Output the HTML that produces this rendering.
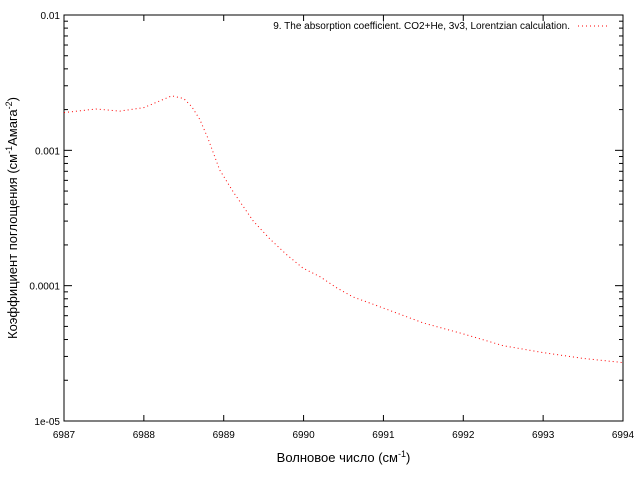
<!DOCTYPE html>
<html><head><meta charset="utf-8"><style>
body{margin:0;background:#fff;}
svg{display:block;font-family:"Liberation Sans","DejaVu Sans",sans-serif;}
</style></head><body>
<svg id="chart" width="640" height="480" viewBox="0 0 640 480"></svg>
<script>
const xs = [6987,6987.4,6987.7,6988,6988.2,6988.35,6988.5,6988.6,6988.7,6988.8,6988.95,6989.12,6989.37,6989.58,6989.79,6989.99,6990.21,6990.42,6990.62,6990.87,6991.5,6992,6992.5,6993,6993.5,6994];
const ys = [0.0019,0.00202,0.00195,0.00207,0.00232,0.00253,0.00241,0.0021,0.00169,0.00124,0.000716,0.000492,0.0003,0.000221,0.000169,0.000135,0.000116,9.6e-5,8.25e-5,7.3e-5,5.3e-5,4.4e-5,3.6e-5,3.2e-5,2.9e-5,2.7e-5];
const xTicks = [6987,6988,6989,6990,6991,6992,6993,6994];
const yTicks = [1e-5,1e-4,1e-3,1e-2];
const yTickLabels = ["1e-05","0.0001","0.001","0.01"];
const L=64,R=623,T=15,B=421;
const NS="http://www.w3.org/2000/svg";
const svg=document.getElementById('chart');
function X(v){return L+(v-6987)/(6994-6987)*(R-L);}
function Y(v){return B-(Math.log10(v)+5)/3*(B-T);}
function mk(tag,attrs,parent){const e=document.createElementNS(NS,tag);for(const k in attrs)e.setAttribute(k,attrs[k]);(parent||svg).appendChild(e);return e;}
const frame=mk('rect',{x:L,y:T,width:R-L,height:B-T,fill:'none',stroke:'#000','stroke-width':1});


xTicks.forEach(t=>{
  const x=X(t);
  const a=mk('line',{x1:x,x2:x,y1:B,y2:B-6,stroke:'#000'});
  
  
  mk('line',{x1:x,x2:x,y1:T,y2:T+6,stroke:'#000'});
  const tx=mk('text',{x:x,y:B+17,'font-size':10,'text-anchor':'middle'});
  tx.textContent=t;
  
  
});
yTicks.forEach((t,i)=>{
  const y=Y(t);
  mk('line',{x1:L,x2:L+8,y1:y,y2:y,stroke:'#000'});
  mk('line',{x1:R,x2:R-8,y1:y,y2:y,stroke:'#000'});
  const tx=mk('text',{x:L-4,y:y+4,'font-size':10,'text-anchor':'end'});
  tx.textContent=yTickLabels[i];
  
  
  if(i<yTicks.length-1){for(let m=2;m<10;m++){const yy=Y(t*m);
    mk('line',{x1:L,x2:L+4,y1:yy,y2:yy,stroke:'#000'});
    mk('line',{x1:R,x2:R-4,y1:yy,y2:yy,stroke:'#000'});}}
});
const d=xs.map((v,i)=>(i?'L':'M')+X(v).toFixed(1)+','+Y(ys[i]).toFixed(1)).join(' ');
const line=mk('path',{d:d,fill:'none',stroke:'#ff0000','stroke-width':1,'stroke-dasharray':'1,3'});


const lg=mk('text',{x:570,y:29,'font-size':10,'text-anchor':'end'});
lg.textContent='9. The absorption coefficient. CO2+He, 3v3, Lorentzian calculation.';


const ll=mk('line',{x1:578,x2:610,y1:26,y2:26,stroke:'#ff0000','stroke-dasharray':'1,3'});


const xt=mk('text',{x:(L+R)/2,y:462,'font-size':13,'text-anchor':'middle'});
xt.innerHTML='Волновое число (см<tspan dy="-5" font-size="9">-1</tspan><tspan dy="5">)</tspan>';


const yt=mk('text',{x:0,y:0,'font-size':13,'text-anchor':'middle',transform:'translate(17,'+((T+B)/2)+') rotate(-90)'});
yt.innerHTML='Коэффициент поглощения (см<tspan dy="-5" font-size="9">-1</tspan><tspan dy="5">Амага</tspan><tspan dy="-5" font-size="9">-2</tspan><tspan dy="5">)</tspan>';


</script>
</body></html>
